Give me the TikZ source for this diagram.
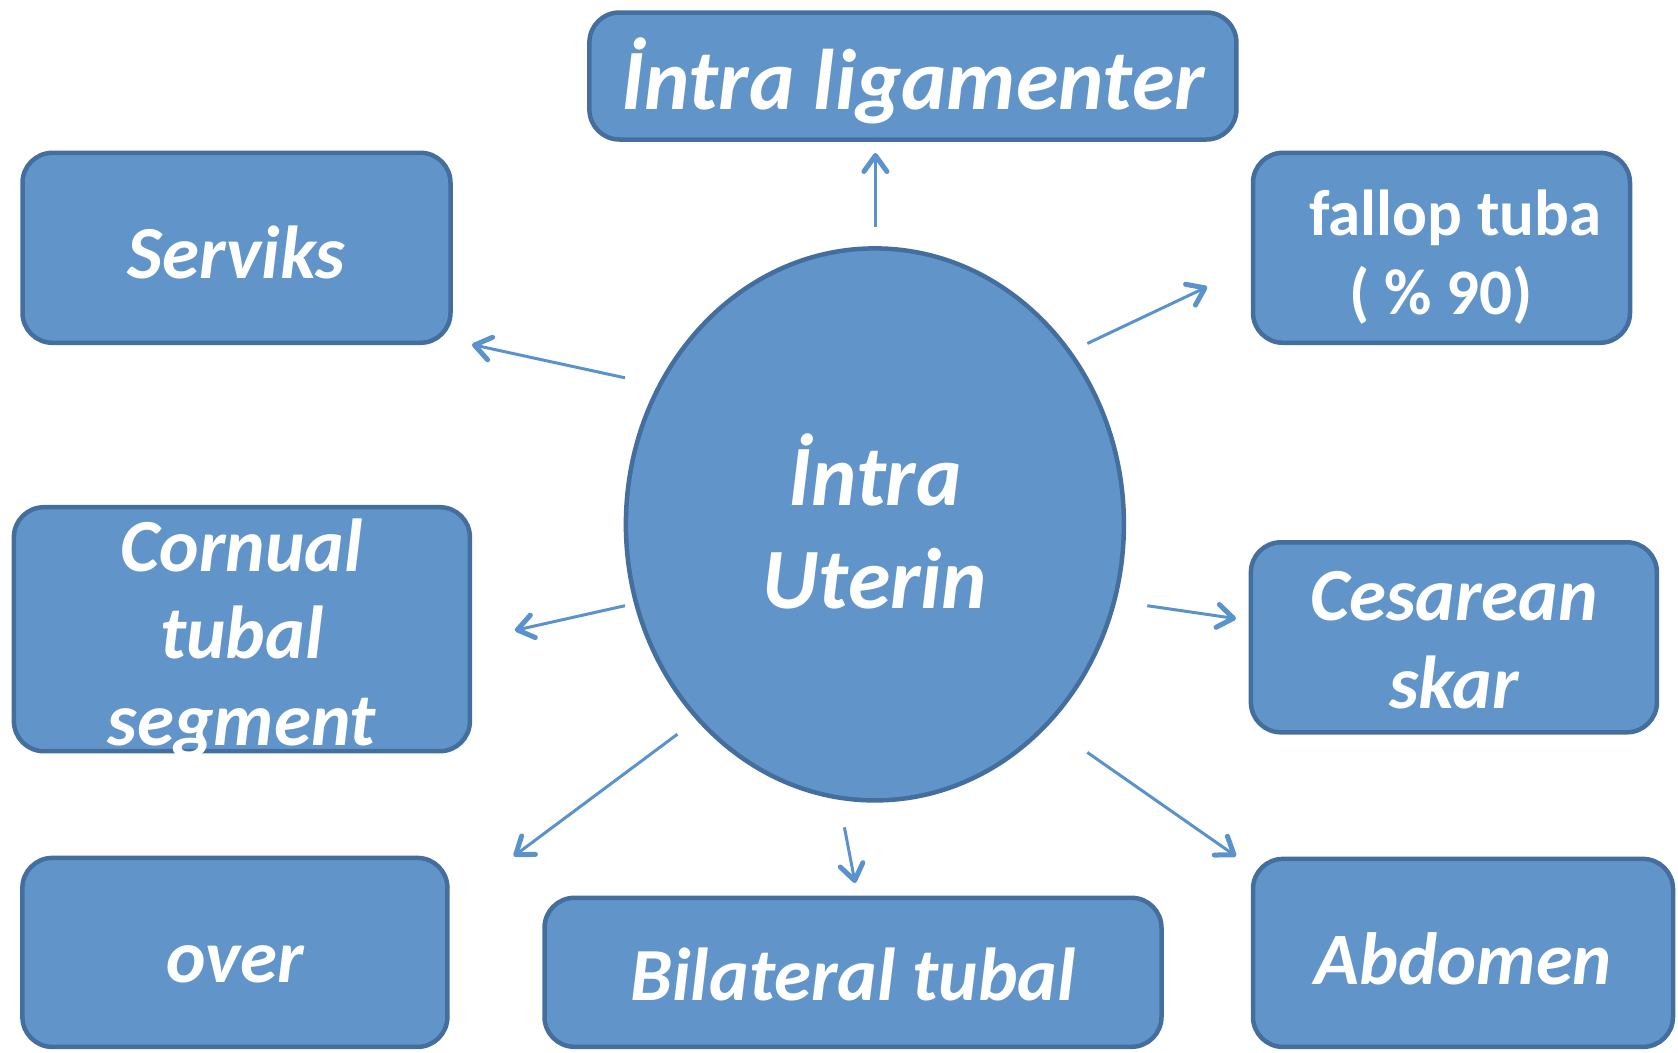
\documentclass[tikz,border=0pt]{standalone}
\usepackage{fontspec}
\setmainfont{Carlito}
\usepackage{tikz}
\usetikzlibrary{shapes.geometric,arrows.meta}

\definecolor{boxfill}{RGB}{97,149,201}
\definecolor{boxline}{RGB}{68,110,158}
\definecolor{arrowblue}{RGB}{90,146,204}

\tikzset{
    box/.style={draw=boxline,line width=4.5pt,fill=boxfill,rounded corners=30pt,
        text=white,align=center,inner sep=0pt},
    bi/.style 2 args={font=\fontsize{#1}{#2}\selectfont\bfseries\itshape},
    arr/.style={draw=arrowblue,line width=3pt,
        -{Straight Barb[length=16pt,width=23pt,line width=5pt,round]}}
}

\begin{document}
\begin{tikzpicture}[x=1pt,y=-1pt]
        \useasboundingbox (0,0) rectangle (1678,1052);
        \node[box,ellipse,minimum width=498pt,minimum height=552pt,bi={86}{103},text height=169pt,text depth=0pt] (uterus) at (874.9,524.4) {İntra\\Uterin};
        \node[box,minimum width=647pt,minimum height=127pt,bi={86}{100},text height=66pt,text depth=0pt] (lig) at (912.9,76) {İntra ligamenter};
        \node[box,minimum width=428pt,minimum height=190pt,bi={75}{88},text height=61pt,text depth=0pt] (serviks) at (236.5,247.8) {Serviks};
        \node[box,minimum width=377pt,minimum height=190pt,font=\fontsize{65}{79}\selectfont\bfseries,text height=134pt,text depth=0pt] (fallop) at (1441.5,247.8) {\hspace*{28pt}fallop tuba\\( \% 90)};
        \node[box,minimum width=456pt,minimum height=244pt,bi={75}{87},text height=232pt,text depth=0pt] (cornual) at (241.9,629.2) {Cornual\\tubal\\segment};
        \node[box,minimum width=406pt,minimum height=190pt,bi={75}{88},text height=142pt,text depth=0pt] (cesarean) at (1453.9,637.3) {Cesarean\\skar};
        \node[box,minimum width=425pt,minimum height=189pt,bi={75}{88},text height=60pt,text depth=0pt] (over) at (234.9,952.4) {over};
        \node[box,minimum width=617pt,minimum height=149pt,bi={75}{88},text height=57pt,text depth=0pt] (bilateral) at (853,972.3) {Bilateral tubal};
        \node[box,minimum width=420pt,minimum height=188pt,bi={74}{88},text height=63pt,text depth=0pt] (abdomen) at (1463,952.9) {Abdomen};
        \coordinate (lig-in) at (875.4,226.9);
        \coordinate (lig-out) at (875.4,153);
        \coordinate (serviks-in) at (625,377.8);
        \coordinate (serviks-out) at (472,344.6);
        \coordinate (fallop-in) at (1087.3,343.5);
        \coordinate (fallop-out) at (1207.2,286.8);
        \coordinate (cornual-in) at (625,605.7);
        \coordinate (cornual-out) at (514.8,630.4);
        \coordinate (cesarean-in) at (1147.3,605.7);
        \coordinate (cesarean-out) at (1236,618.6);
        \coordinate (over-in) at (677.4,734.2);
        \coordinate (over-out) at (513.7,856.2);
        \coordinate (bilateral-in) at (844.4,827.3);
        \coordinate (bilateral-out) at (855.1,883);
        \coordinate (abdomen-in) at (1087.3,752.4);
        \coordinate (abdomen-out) at (1236,856.2);
        \path
        (lig-in) edge[arr] (lig-out)
        (serviks-in) edge[arr] (serviks-out)
        (fallop-in) edge[arr] (fallop-out)
        (cornual-in) edge[arr] (cornual-out)
        (cesarean-in) edge[arr] (cesarean-out)
        (over-in) edge[arr] (over-out)
        (bilateral-in) edge[arr] (bilateral-out)
        (abdomen-in) edge[arr] (abdomen-out);
    \end{tikzpicture}
\end{document}
